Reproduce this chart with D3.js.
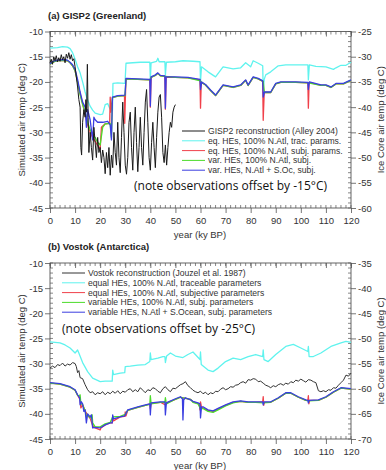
<!DOCTYPE html>
<html>
<head>
<meta charset="utf-8">
<script src="https://cdn.jsdelivr.net/npm/d3@7"></script>
<style>
  body { margin: 0; background: #fff; }
  svg text { font-family: "Liberation Sans", Arial, sans-serif; }
</style>
</head>
<body>
<div id="chart"></div>
<script>
// ---- data: [kyr BP, temp degC] ----
const xTicks = [0, 10, 20, 30, 40, 50, 60, 70, 80, 90, 100, 110, 120];
const leftTicks = [-10, -15, -20, -25, -30, -35, -40, -45];
const rightTicksA = [-25, -30, -35, -40, -45, -50, -55, -60];
const rightTicksB = [-35, -40, -45, -50, -55, -60, -65, -70];

const legendA = ['GISP2 reconstruction (Alley 2004)', 'eq. HEs, 100% N.Atl, trac. params.',
  'eq. HEs, 100% N.Atl, subj. params.', 'var. HEs, 100% N.Atl, subj.', 'var. HEs, N.Atl + S.Oc, subj.'];
const legendB = ['Vostok reconstruction (Jouzel et al. 1987)', 'equal HEs, 100% N.Atl, traceable parameters',
  'equal HEs, 100% N.Atl, subjective parameters', 'variable HEs, 100% N.Atl, subj. parameters',
  'variable HEs, N.Atl + S.Ocean, subj. parameters'];

const gisp2 = [[0,-16.2],[0.5,-15.5],[1,-16.5],[1.5,-15],[2,-15.8],[2.5,-14.8],[3,-16],[3.5,-15.2],[4,-15.9],[4.5,-14.6],
  [5,-15.6],[5.5,-15],[6,-16.2],[6.5,-14.5],[7,-15.3],[7.5,-14.2],[8,-15.5],[8.5,-14.6],[9,-15.8],[9.5,-15.4],
  [10,-17],[10.5,-19],[11,-21],[11.5,-23.5],[12,-25],[12.3,-33],[12.6,-34.5],[13,-28],[13.5,-25.5],[14,-27],
  [14.3,-23.5],[14.6,-26],[14.9,-16.5],[15.2,-27],[15.5,-34],[16,-30],[16.5,-33],[17,-35.5],[17.5,-29],[18,-32],
  [18.5,-35],[19,-31],[19.5,-34],[20,-33],[20.5,-36],[21,-33.5],[21.5,-35],[22,-38.2],[22.5,-34],[23,-37],
  [23.5,-33],[24,-38.5],[24.5,-34.5],[25,-37],[25.5,-30],[26,-34],[26.5,-36.5],[27,-28],[27.5,-35],[28,-38],
  [28.5,-31],[29,-24],[29.5,-30],[30,-36.5],[30.5,-38.3],[31,-35],[31.5,-28],[32,-26],[32.5,-33],[33,-37.5],
  [33.5,-30],[34,-25],[34.5,-32],[35,-37.8],[35.5,-33],[36,-27],[36.5,-33],[37,-36.5],[37.5,-30],[38,-24],
  [38.5,-21.5],[39,-28],[39.5,-35],[40,-37.5],[40.5,-32],[41,-28],[41.5,-33],[42,-37],[42.5,-31],[43,-26],
  [43.5,-23],[44,-22.5],[44.5,-27],[45,-34],[45.5,-36],[46,-32.5],[46.5,-36.5],[47,-33],[47.5,-30],[48,-28],
  [48.5,-29],[49,-26],[49.5,-25],[50,-24.5]];

const cyanA = [[0,-13.3],[3,-13.2],[5,-13],[7,-13.1],[8,-13.4],[9,-14.2],[10,-15.5],[11,-17],[12,-18.2],[13,-20],
  [14,-22],[15,-23.6],[16,-24.8],[17,-25.6],[18,-26.2],[20,-26.5],[21,-26.4],[22,-24.5],[23,-24.3],[24,-25.4],
  [24.9,-25.6],[25.1,-20.3],[27,-20.2],[29.9,-20.3],[30.3,-16.3],[33,-16.2],[36,-16.1],[39.8,-16.1],[40,-19.6],
  [40.3,-16.2],[42.5,-15.9],[43,-15.3],[43.5,-16],[45.8,-16],[46,-18.6],[46.4,-16.1],[50,-16],[53,-15.8],[57,-15.9],
  [59.8,-16],[60,-20],[60.4,-17],[63,-18],[66,-19],[69,-17],[73,-17.4],[76,-17.2],[78,-16.2],[80,-17],[81,-15.8],
  [83,-16.3],[84.8,-16.8],[85,-21.6],[85.4,-19.5],[86,-18.6],[88,-18],[91,-16.8],[94,-16.6],[98,-16.6],[102.8,-16.6],
  [103,-19.6],[103.4,-16.6],[106,-16.9],[110,-17],[113,-17.5],[114,-17.2],[116,-16.7],[118,-16.7],[120,-16.1]];

const redA = [[0,-16.5],[2,-15.9],[4,-15.7],[7,-15.8],[8,-16.2],[9,-16.8],[10,-17.8],[11,-20],[12,-22.3],[13,-24.3],
  [14,-26.5],[15,-28.5],[16,-30],[17,-31],[18,-31.8],[19,-32.6],[20,-33.3],[20.5,-29],[22,-28.3],[23.8,-28.2],
  [24,-23],[24.3,-26],[24.9,-23.1],[27,-22.8],[29.7,-22.7],[29.8,-28.2],[30,-24],[30.3,-19.4],[35,-19.5],[39.8,-19.6],
  [40,-25],[40.3,-19.1],[42,-18.7],[43,-18.3],[44,-18.8],[45.8,-18.9],[46,-25.4],[46.3,-19.1],[50,-19.1],[55,-19.2],
  [59.8,-19.6],[60,-25.2],[60.3,-20.1],[62,-20.6],[64,-21.7],[66,-22.7],[69,-20.7],[73,-21.1],[76,-20.7],[78,-19.7],
  [79,-20.7],[81,-19.1],[83,-19.4],[84.8,-19.9],[85,-27.6],[85.4,-22.1],[88,-22.1],[90,-20.4],[92,-20.1],[98,-20.1],
  [102.8,-20.2],[103,-25.2],[103.3,-20.1],[108,-20.7],[110,-20.7],[112,-21.1],[114,-20.4],[117,-20.4],[120,-19.7]];

const greenA = [[0,-16.5],[2,-15.9],[4,-15.7],[7,-15.8],[8,-16.2],[9,-16.8],[10,-17.8],[11,-20],[12,-22.5],[13,-24.5],
  [14,-26],[15,-28],[16,-29.5],[17,-30.5],[18,-31],[19,-32],[20,-32.5],[21,-29],[22,-28.3],[24,-28.2],[24.5,-31],
  [24.9,-23.1],[27,-22.8],[29.9,-22.7],[30.3,-19.4],[35,-19.5],[39.8,-19.6],[40.3,-19.1],[42,-18.7],[43,-18.3],
  [44,-18.8],[46,-18.9],[50,-19.1],[55,-19.2],[60,-19.8],[60.5,-20.1],[62,-20.6],[64,-21.7],[66,-22.7],[69,-20.7],
  [73,-21.1],[76,-20.7],[78,-19.7],[79,-20.7],[81,-19.1],[83,-19.4],[85,-19.9],[85.5,-22.1],[88,-22.1],[90,-20.4],
  [92,-20.1],[98,-20.1],[103,-20.2],[108,-20.7],[110,-20.7],[112,-21.1],[114,-20.4],[117,-20.4],[120,-19.7]];

const blueA = [[0,-16.4],[1,-16],[2,-15.8],[4,-15.6],[6,-15.6],[7,-15.7],[8,-16.1],[9,-16.6],[10,-17.5],[11,-19.5],
  [12,-22],[13,-24],[14,-25],[14.5,-29],[15,-25.5],[16,-27.5],[17,-31.5],[17.5,-27],[18,-27.5],[19,-28],[21,-28],
  [23,-27.8],[24,-28.5],[24.5,-31.5],[24.9,-23],[27,-22.7],[29.9,-22.6],[30.3,-19.3],[35,-19.4],[39.8,-19.5],
  [40,-24.8],[40.3,-19],[42,-18.6],[43,-18.2],[44,-18.7],[45.8,-18.8],[46,-25.2],[46.3,-19],[50,-19],[55,-19.1],
  [59.8,-19.5],[60,-21.5],[60.5,-20],[62,-20.5],[64,-21.6],[66,-22.6],[69,-20.6],[73,-21],[76,-20.6],[78,-19.6],
  [79,-20.6],[81,-19],[83,-19.3],[84.8,-19.8],[85,-23],[85.5,-22],[88,-22],[90,-20.3],[92,-20],[98,-20],
  [102.8,-20.1],[103,-21.5],[103.4,-20],[108,-20.6],[110,-20.6],[112,-21],[114,-20.3],[117,-20.3],[120,-19.6]];

const vostok = [[0,-30.9],[1,-30.5],[2,-30.8],[3,-30.2],[4,-30.4],[5,-29.9],[6,-30.5],[7,-30.1],[8,-30.3],[9,-29.8],
  [10,-30],[10.5,-30.6],[11,-31.8],[11.5,-31.4],[12,-32.8],[13,-33],[14,-34.2],[15,-35.2],[16,-35.8],[17,-35.6],
  [18,-36.2],[19,-35.8],[20,-36],[21,-35.6],[22,-36.2],[23,-35.7],[24,-36],[25,-35.5],[26,-35.9],[27,-35.4],
  [28,-36],[29,-35.5],[30,-35.7],[31,-35.2],[32,-35],[33,-35.6],[34,-35.2],[35,-35.6],[36,-34.8],[37,-35.3],
  [38,-35.8],[39,-35.2],[40,-35.4],[41,-34.8],[42,-35],[43,-35.5],[44,-35.8],[45,-35],[46,-34.6],[47,-35.2],
  [48,-35.6],[49,-34.9],[50,-35],[51,-34.6],[52,-34.2],[53,-34],[54,-33.6],[55,-34.4],[56,-34.8],[57,-35.3],
  [58,-35.6],[59,-35.8],[60,-35.5],[61,-36],[62,-35.7],[63,-36.2],[64,-35.8],[65,-36],[66,-35.5],[67,-35.6],
  [68,-35.1],[69,-34.8],[70,-35.2],[71,-35],[72,-34.6],[73,-34.7],[74,-34.3],[75,-34.2],[76,-33.8],[77,-33.6],
  [78,-33.9],[79,-33.2],[80,-33.3],[81,-33],[82,-33.1],[83,-33.6],[84,-33.5],[85,-33.9],[86,-34.3],[87,-34.5],
  [88,-34.8],[89,-34.4],[90,-34.6],[91,-34.2],[92,-34],[93,-34.3],[94,-33.9],[95,-34.1],[96,-33.6],[97,-33.8],
  [98,-33.3],[99,-33.5],[100,-33.1],[101,-33.4],[102,-33.7],[103,-33.2],[104,-33.3],[105,-33.6],[106,-33.8],
  [107,-35.4],[108,-35.6],[109,-35.4],[110,-35.6],[111,-35.2],[112,-35.3],[113,-34.8],[114,-34.9],[115,-34.3],
  [116,-33.8],[117,-33.3],[118,-32.3],[119,-32.5],[120,-31.9]];

const cyanB = [[0,-25.7],[2,-25.8],[4,-25.9],[6,-26.3],[8,-26.9],[10,-27.9],[11,-27.3],[11.5,-27.9],[13,-29.8],
  [15,-31.6],[17,-32.9],[20,-33.6],[22,-33.5],[24.8,-33.5],[25,-31.3],[25.3,-32.2],[28,-31.9],[29.8,-31.8],[30,-30.6],
  [32,-30.5],[35,-30.3],[38,-30.2],[39.8,-29.6],[40,-27.9],[40.3,-29.2],[43,-28.9],[45,-28.6],[45.8,-28.6],[46,-29.8],
  [46.5,-28.5],[48,-27.9],[50,-28.5],[53,-28.8],[55,-28.2],[57,-27.7],[59.8,-29.2],[60,-27.7],[60.3,-30.2],[63,-31.3],
  [65,-31.6],[67,-30.9],[70,-29.6],[73,-28.9],[76,-29.2],[79,-28.6],[82,-28.2],[84.8,-28.6],[85,-27.3],[85.3,-29.2],
  [87,-29.6],[90,-28.2],[94,-26.6],[97,-26.2],[100,-26.9],[102.8,-27.6],[103,-26.6],[103.3,-28.6],[105,-28.6],
  [108,-27.9],[112,-26.6],[116,-25.9],[118,-25.6],[120,-25.8]];

const redB = [[0,-33.9],[4,-34.1],[8,-34.7],[10,-35.3],[11,-36.3],[12,-37.2],[12.3,-38.8],[13,-38.2],[14,-39.4],
  [15,-40.3],[16,-40.9],[17,-42.3],[18,-42.8],[20,-43.2],[20.3,-42.8],[22,-42.2],[24,-41.8],[24.8,-41.8],[25,-40.8],
  [25.3,-41.4],[28,-40.6],[29.8,-40.5],[30,-39.6],[30.3,-40.4],[31,-39.3],[35,-38.7],[38,-38.3],[39.8,-38],[40,-39],
  [40.3,-37.9],[44,-37.7],[46,-38.2],[46.4,-37.8],[50,-37.1],[52,-36.7],[54,-36.9],[56,-37.1],[57,-37.6],[59,-37.9],
  [59.6,-38.4],[59.8,-39.2],[60,-37.6],[60.4,-38.7],[63,-39.3],[65,-39.5],[67,-39],[70,-38.3],[73,-37.7],[76,-37.5],
  [79,-37.7],[82,-37.7],[84.8,-37.6],[85,-36.6],[85.2,-38.3],[85.5,-37.7],[88,-37.7],[91,-36.9],[94,-35.9],[96,-35.9],
  [99,-36.7],[102,-37.3],[102.8,-37.3],[103,-36.4],[103.2,-38],[103.5,-37.3],[107,-37.3],[110,-36.7],[113,-35.7],
  [116,-34.9],[120,-35.1]];

const greenB = [[0,-33.9],[4,-34.1],[8,-34.7],[10,-35.3],[11,-36.3],[11.8,-36.5],[12,-36.2],[12.3,-38],[13,-38.2],
  [14,-39.4],[14.5,-40.5],[15,-40.2],[16,-40.8],[16.8,-40.2],[17,-41.8],[18,-42.6],[20,-42.6],[22,-42],[24,-41.7],
  [25,-40.6],[28,-40.5],[30,-40.1],[31,-39.3],[35,-38.7],[38,-38.3],[39.8,-38.1],[40,-36.4],[40.3,-38],[44,-37.7],
  [45.8,-37.7],[46,-36.8],[46.4,-38],[50,-37.1],[52,-36.7],[54,-36.9],[56,-37.1],[57,-37.7],[59,-38],[60,-39],
  [61,-38.9],[63,-39.5],[65,-39.7],[67,-39.2],[70,-38.4],[73,-37.8],[76,-37.5],[79,-37.7],[82,-37.7],[85,-37.8],
  [88,-37.7],[91,-36.9],[94,-35.9],[96,-35.9],[99,-36.7],[102,-37.3],[103,-37.4],[107,-37.3],[110,-36.7],[113,-35.7],
  [116,-34.9],[120,-35.1]];

const blueB = [[0,-33.8],[4,-34],[8,-34.6],[10,-35.2],[11,-36.2],[11.8,-36.8],[12,-38.2],[12.5,-37.6],[13,-38],
  [13.5,-39.5],[14,-39.2],[14.5,-41.8],[15,-40],[16,-40.6],[16.5,-40.2],[17,-42.8],[18,-42.7],[20,-42.8],[22,-42.2],
  [24,-41.8],[24.8,-41.8],[25,-40.2],[25.3,-41],[28,-40.6],[29.8,-40.4],[30,-40.2],[31,-39.2],[35,-38.6],[38,-38.2],
  [39.8,-38],[40,-40.2],[40.3,-37.8],[44,-37.6],[45.8,-37.6],[46,-40.2],[46.4,-37.8],[50,-37],[52,-36.6],[52.8,-37],
  [53,-41.2],[53.3,-37.2],[54,-36.8],[56,-37.2],[57,-37.5],[59,-37.8],[59.8,-38],[60,-40.8],[60.4,-38.6],[61,-38.6],
  [63,-39.2],[65,-39.4],[67,-38.9],[70,-38.2],[73,-37.6],[76,-37.4],[79,-37.6],[82,-37.6],[84.8,-37.6],[85,-38.2],
  [85.4,-37.6],[88,-37.6],[91,-36.8],[94,-35.8],[96,-35.8],[99,-36.6],[102,-37.2],[102.8,-37.3],[103,-37.8],
  [103.3,-37.3],[107,-37.2],[110,-36.6],[113,-35.6],[116,-34.8],[120,-35]];

const colors = { obs: '#1a1a1a', cyan: '#5ff3ee', red: '#f0404a', green: '#4cdc2a', blue: '#3a3ee0' };

const W = 386, H = 470;
const svg = d3.select('#chart').append('svg').attr('width', W).attr('height', H);

function drawPanel(p) {
  const x = d3.scaleLinear().domain([0, 120]).range([50, 351]);
  const y = d3.scaleLinear().domain([-45, -10]).range([p.bottom, p.top]);
  const yr = d3.scaleLinear().domain([p.rightTicks[p.rightTicks.length - 1], p.rightTicks[0]]).range([p.bottom, p.top]);
  const g = svg.append('g');

  // minor ticks (inside)
  const minorX = d3.range(0, 121, 2);
  const minorY = d3.range(-45, -9, 1);
  const tk = g.append('g').attr('stroke', '#555').attr('stroke-width', 0.7);
  minorX.forEach(v => {
    tk.append('line').attr('x1', x(v)).attr('x2', x(v)).attr('y1', p.bottom).attr('y2', p.bottom - 3);
    tk.append('line').attr('x1', x(v)).attr('x2', x(v)).attr('y1', p.top).attr('y2', p.top + 3);
  });
  minorY.forEach(v => {
    tk.append('line').attr('x1', 50).attr('x2', 53).attr('y1', y(v)).attr('y2', y(v));
    tk.append('line').attr('x1', 351).attr('x2', 348).attr('y1', y(v)).attr('y2', y(v));
  });

  // major ticks + labels via axes
  const ax = (sel) => sel.call(s => s.select('.domain').remove())
    .call(s => s.selectAll('line').attr('stroke', '#555').attr('stroke-width', 0.8))
    .call(s => s.selectAll('text').attr('fill', '#333').style('font-size', '9.5px'));
  g.append('g').attr('transform', `translate(0,${p.bottom})`)
    .call(d3.axisBottom(x).tickValues(xTicks).tickSize(5).tickPadding(4).tickFormat(d3.format('d'))).call(ax);
  g.append('g').attr('transform', `translate(0,${p.top})`)
    .call(d3.axisBottom(x).tickValues(xTicks).tickSize(5).tickFormat('')).call(ax);
  g.append('g').attr('transform', 'translate(50,0)')
    .call(d3.axisLeft(y).tickValues(leftTicks).tickSize(5).tickPadding(2).tickFormat(d3.format('d'))).call(ax);
  g.append('g').attr('transform', 'translate(351,0)')
    .call(d3.axisRight(yr).tickValues(p.rightTicks).tickSize(5).tickPadding(2).tickFormat(d3.format('d'))).call(ax);
  g.selectAll('.tick text').each(function () {
    const t = d3.select(this);
    t.text(t.text().replace('\u2212', '-'));
  });

  // frame
  g.append('rect').attr('x', 50).attr('y', p.top).attr('width', 301).attr('height', p.bottom - p.top)
    .attr('fill', 'none').attr('stroke', '#555').attr('stroke-width', 0.9);

  const line = d3.line().x(d => x(d[0])).y(d => y(d[1]));
  const plot = g.append('g');
  p.series.forEach(s => {
    plot.append('path').datum(s.data).attr('d', line).attr('fill', 'none')
      .attr('stroke', s.color).attr('stroke-width', s.w).attr('stroke-linejoin', 'round');
  });

  // legend
  const lg = g.append('g');
  p.legend.forEach((label, i) => {
    const ly = p.legY + i * 9.8;
    lg.append('line').attr('x1', p.legX).attr('x2', p.legX + 23).attr('y1', ly).attr('y2', ly)
      .attr('stroke', p.legColors[i]).attr('stroke-width', 1);
    lg.append('text').attr('x', p.legX + 26).attr('y', ly + 3).attr('fill', '#333')
      .style('font-size', '8.6px').text(label);
  });

  g.append('text').attr('x', p.noteX).attr('y', p.noteY).attr('fill', '#111')
    .style('font-family', '"Open Sans", sans-serif').style('font-size', '12px').text(p.note);

  g.append('text').attr('x', 48).attr('y', p.top - 13).attr('fill', '#222')
    .style('font-size', '9.5px').style('font-weight', 'bold').text(p.title);

  g.append('text').attr('transform', `translate(25,${(p.top + p.bottom) / 2}) rotate(-90)`)
    .attr('text-anchor', 'middle').attr('fill', '#333').style('font-size', '9.5px')
    .text('Simulated air temp (deg C)');
  g.append('text').attr('transform', `translate(384,${(p.top + p.bottom) / 2}) rotate(-90)`)
    .attr('text-anchor', 'middle').attr('fill', '#333').style('font-size', '9.5px')
    .text('Ice Core air temp (deg C)');
  g.append('text').attr('x', 200).attr('y', p.bottom + 30).attr('text-anchor', 'middle')
    .attr('fill', '#333').style('font-size', '9.5px').text('year (ky BP)');
}

const legColors = [colors.obs, colors.cyan, colors.red, colors.green, colors.blue];

drawPanel({
  top: 31.5, bottom: 208, rightTicks: rightTicksA, title: '(a) GISP2 (Greenland)',
  series: [
    { data: cyanA, color: colors.cyan, w: 1.3 },
    { data: redA, color: colors.red, w: 1.3 },
    { data: greenA, color: colors.green, w: 1.3 },
    { data: blueA, color: colors.blue, w: 1.3 },
    { data: gisp2, color: colors.obs, w: 1 },
  ],
  legend: legendA, legColors, legX: 182, legY: 131,
  note: '(note observations offset by -15°C)', noteX: 134, noteY: 190,
});

drawPanel({
  top: 263, bottom: 439, rightTicks: rightTicksB, title: '(b) Vostok (Antarctica)',
  series: [
    { data: vostok, color: '#333', w: 1 },
    { data: cyanB, color: colors.cyan, w: 1.3 },
    { data: redB, color: colors.red, w: 1.3 },
    { data: greenB, color: colors.green, w: 1.3 },
    { data: blueB, color: colors.blue, w: 1.3 },
  ],
  legend: legendB, legColors: ['#333', colors.cyan, colors.red, colors.green, colors.blue], legX: 62, legY: 273,
  note: '(note observations offset by -25°C)', noteX: 62, noteY: 333,
});
</script>
</body>
</html>
